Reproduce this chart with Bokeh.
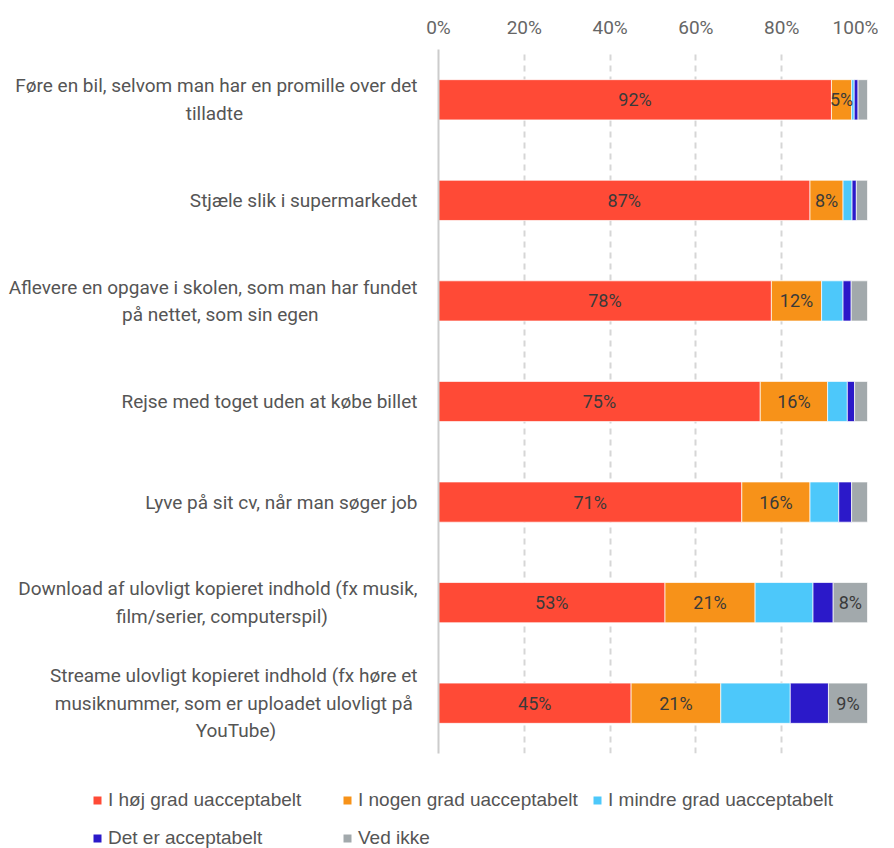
from bokeh.plotting import figure
from bokeh.layouts import column
from bokeh.models import (Range1d, FactorRange, FixedTicker, PrintfTickFormatter,
                          Legend, LegendItem, ColumnDataSource)
from bokeh.core.properties import value
from bokeh.embed import file_html
from bokeh.resources import INLINE

categories = [
    "Føre en bil, selvom man har en promille over det\ntilladte",
    "Stjæle slik i supermarkedet",
    "Aflevere en opgave i skolen, som man har fundet\npå nettet, som sin egen",
    "Rejse med toget uden at købe billet",
    "Lyve på sit cv, når man søger job",
    "Download af ulovligt kopieret indhold (fx musik,\nfilm/serier, computerspil)",
    "Streame ulovligt kopieret indhold (fx høre et\nmusiknummer, som er uploadet ulovligt på\nYouTube)",
]
series_names = ["I høj grad uacceptabelt", "I nogen grad uacceptabelt",
                "I mindre grad uacceptabelt", "Det er acceptabelt", "Ved ikke"]
hoej = [91.6, 86.6, 77.6, 75.0, 70.7, 52.8, 44.9]
nogen = [4.7, 7.7, 11.7, 15.7, 15.9, 21.0, 20.9]
mindre = [0.6, 2.1, 5.0, 4.6, 6.7, 13.5, 16.2]
acceptabelt = [0.9, 1.0, 1.9, 1.7, 3.0, 4.7, 8.9]
ved_ikke = [2.2, 2.6, 3.8, 3.0, 3.7, 8.0, 9.1]
x_ticks = [0, 20, 40, 60, 80, 100]

series_values = [hoej, nogen, mindre, acceptabelt, ved_ikke]
colors = ["#FF4A36", "#F79219", "#4DC8FA", "#2B19C9", "#A2A9AC"]
show_labels = [True, True, False, False, True]

# trailing no-break spaces so that the lines of a multi-line label look centred
line_pads = {0: [0, 37], 2: [0, 21], 5: [0, 19], 6: [0, 1, 30]}

factors = []
for i, c in enumerate(categories):
    pads = line_pads.get(i, [0] * (c.count("\n") + 1))
    factors.append("\n".join(ln + "\u00a0" * n for ln, n in zip(c.split("\n"), pads)))

FONT = "Roboto"

p = figure(width=878, height=770, output_backend="svg", toolbar_location=None,
           y_range=FactorRange(factors=factors[::-1], range_padding=0),
           x_range=Range1d(0, 100), x_axis_location="above",
           min_border_left=438, min_border_right=11, min_border_top=49,
           min_border_bottom=17)
p.frame_align = False
p.outline_line_color = None
p.background_fill_color = "white"

renderers = []
lbl_x, lbl_y, lbl_t = [], [], []
left = [0.0] * len(categories)
for vals, col, show in zip(series_values, colors, show_labels):
    right = [l + v for l, v in zip(left, vals)]
    src = ColumnDataSource(dict(y=factors, left=left, right=right))
    r = p.hbar(y="y", left="left", right="right", height=0.4, source=src,
               fill_color=col, line_color="white", line_width=0.7)
    renderers.append(r)
    if show:
        for c, l, v in zip(factors, left, vals):
            if v >= 4.5:
                lbl_x.append(l + v / 2)
                lbl_y.append(c)
                lbl_t.append(f"{v:.0f}%")
    left = right

p.text(x=lbl_x, y=lbl_y, text=lbl_t, text_align="center", text_baseline="middle",
       text_font=value(FONT), text_font_size="18px", text_color="#3a3a3a")

# axes
xa = p.xaxis[0]
xa.ticker = FixedTicker(ticks=x_ticks)
xa.formatter = PrintfTickFormatter(format="%d%%")
xa.axis_line_color = None
xa.major_tick_line_color = None
xa.minor_tick_line_color = None
xa.major_label_text_font = FONT
xa.major_label_text_font_size = "19px"
xa.major_label_text_color = "#666666"
xa.major_label_standoff = 5

ya = p.yaxis[0]
ya.axis_line_color = "#cccccc"
ya.axis_line_width = 2
ya.major_tick_line_color = None
ya.minor_tick_line_color = None
ya.major_label_text_font = FONT
ya.major_label_text_font_size = "19px"
ya.major_label_text_color = "#555555"
ya.major_label_standoff = 15

p.ygrid.grid_line_color = None
p.xgrid.ticker = FixedTicker(ticks=x_ticks)
p.xgrid.grid_line_color = "#d6d6d6"
p.xgrid.grid_line_width = 2
p.xgrid.grid_line_dash = "6 5"

# legend in its own strip below the chart
lg = figure(width=878, height=78, output_backend="svg", toolbar_location=None,
            x_range=Range1d(0, 1), y_range=Range1d(0, 1),
            x_axis_type=None, y_axis_type=None,
            min_border_left=0, min_border_right=0, min_border_top=0, min_border_bottom=0)
lg.frame_align = False
lg.outline_line_color = None
lg.grid.visible = False
# zero-width bars: only their legend swatches are visible
lg_renderers = [lg.hbar(y=[0], left=[0], right=[0], height=0.5, fill_color=c, line_color=None)
                for c in colors]
legend = Legend(items=[LegendItem(label=n, renderers=[r]) for n, r in zip(series_names, lg_renderers)],
                location=(92, -5), orientation="horizontal", ncols=3,
                glyph_width=10, glyph_height=10, label_standoff=6, label_width=226,
                label_height=30, spacing=8, padding=0, margin=0,
                border_line_color=None, background_fill_alpha=0,
                label_text_font="Liberation Sans", label_text_font_size="19px",
                label_text_color="#555555", label_text_baseline="middle")
lg.add_layout(legend, "center")

layout = column(p, lg, spacing=0)
open("out.html", "w").write(file_html(layout, INLINE))
